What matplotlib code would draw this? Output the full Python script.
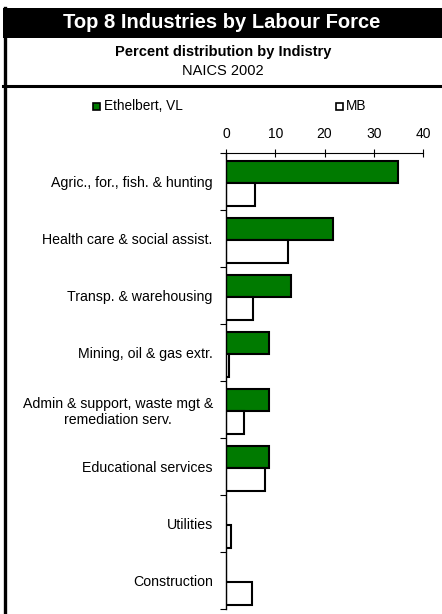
import matplotlib
matplotlib.use("Agg")
import matplotlib.pyplot as plt
from matplotlib.patches import Rectangle
from matplotlib.lines import Line2D
import numpy as np

plt.rcParams['font.family'] = ['Liberation Sans', 'DejaVu Sans']

categories = ["Agric., for., fish. & hunting",
              "Health care & social assist.",
              "Transp. & warehousing",
              "Mining, oil & gas extr.",
              "Admin & support, waste mgt &\nremediation serv.",
              "Educational services",
              "Utilities",
              "Construction"]
ethelbert = [34.9, 21.8, 13.1, 8.7, 8.7, 8.7, 0.0, 0.0]
mb = [5.9, 12.5, 5.5, 0.7, 3.6, 7.9, 1.1, 5.3]
xticks = [0, 10, 20, 30, 40]
series_names = ["Ethelbert, VL", "MB"]

W, H = 442, 614
fig = plt.figure(figsize=(W / 100, H / 100), dpi=100)

def fx(px):
    return px / W

def fy(py):
    return 1 - py / H

# Header
fig.patches.append(Rectangle((fx(3), fy(38)), fx(W - 3), (38 - 8) / H,
                             transform=fig.transFigure, facecolor='black',
                             edgecolor='none', zorder=0))
fig.lines.append(Line2D([fx(4.5), fx(4.5)], [fy(8), fy(614)], transform=fig.transFigure,
                        color='black', lw=2.4))
fig.lines.append(Line2D([fx(3), fx(W)], [fy(86), fy(86)], transform=fig.transFigure,
                        color='black', lw=2.2))
fig.text(fx(222), fy(22), "Top 8 Industries by Labour Force", color='white',
         fontsize=14.5, fontweight='bold', ha='center', va='center')
fig.text(fx(223), fy(52), "Percent distribution by Indistry", color='black',
         fontsize=10.5, fontweight='bold', ha='center', va='center')
fig.text(fx(223), fy(71), "NAICS 2002", color='black',
         fontsize=10.5, ha='center', va='center')

# Axes
ax = fig.add_axes([fx(226), fy(609), fx(423) - fx(226), (609 - 153) / H])
y = np.arange(len(categories))
h = 0.39
off = 0.03
ax.barh(y - 0.2 + off, ethelbert, height=h, color='#007a00', edgecolor='black', lw=1.5)
ax.barh(y + 0.2 + off, mb, height=h, color='white', edgecolor='black', lw=1.5)

ax.set_xlim(0, 40)
ax.set_ylim(len(categories) - 0.5, -0.5)
ax.xaxis.tick_top()
ax.set_xticks(xticks)
ax.set_xticklabels([str(t) for t in xticks], fontsize=10)
ax.tick_params(axis='x', direction='inout', length=6, width=0.8, pad=6)
ax.set_yticks(y)
ax.set_yticklabels(categories, fontsize=10.2)
ax.tick_params(axis='y', length=0, pad=9.5)
for lbl in ax.get_yticklabels():
    lbl.set_multialignment('center')
ax.set_yticks(np.arange(len(categories) + 1) - 0.5, minor=True)
ax.tick_params(axis='y', which='minor', direction='out', length=4, width=0.8)
for s in ['right', 'bottom']:
    ax.spines[s].set_visible(False)
ax.spines['left'].set_linewidth(1.0)
ax.spines['top'].set_linewidth(0.8)

# Legend
fig.patches.append(Rectangle((fx(93), fy(110)), 7 / W, 7 / H, transform=fig.transFigure,
                             facecolor='#007a00', edgecolor='black', lw=1.2))
fig.text(fx(104), fy(106), series_names[0], fontsize=9.8, va='center', ha='left')
fig.patches.append(Rectangle((fx(336), fy(110)), 7 / W, 7 / H, transform=fig.transFigure,
                             facecolor='white', edgecolor='black', lw=1.2))
fig.text(fx(346), fy(106), series_names[1], fontsize=9.8, va='center', ha='left')

fig.savefig("out.png", dpi=100)
